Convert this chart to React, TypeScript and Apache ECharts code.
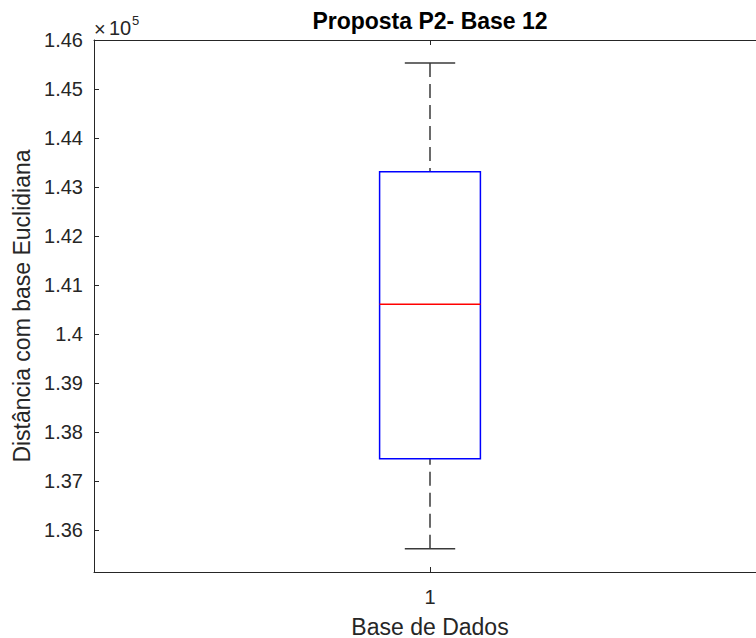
import React, { useEffect, useRef } from "react";
import * as echarts from "echarts";

// Data
const categories: string[] = ["1"];
// [min whisker, Q1, median, Q3, max whisker]
const boxStats: number[][] = [[135627, 137460, 140614, 143316, 145530]];
const yTickValues: number[] = [136000, 137000, 138000, 139000, 140000, 141000, 142000, 143000, 144000, 145000, 146000];
const yMin = 135152;
const yMax = 146000;

const FONT = "'Liberation Sans', Arial, Helvetica, sans-serif";
const AXIS_COLOR = "#262626";

export default function App() {
  const ref = useRef<HTMLDivElement>(null);

  useEffect(() => {
    document.body.style.margin = "0";
    document.body.style.overflow = "hidden";
    if (!ref.current) return;
    const chart = echarts.init(ref.current, undefined, { renderer: "svg" });

    const seriesData = boxStats.map((s, i) => [i, ...s]);

    const option: any = {
      animation: false,
      backgroundColor: "#ffffff",
      grid: { left: 94, top: 40, width: 672, height: 532, containLabel: false, outerBoundsMode: "none" },
      xAxis: [
        {
          type: "category",
          data: categories,
          position: "bottom",
          axisLine: { show: true, lineStyle: { color: AXIS_COLOR, width: 1 } },
          axisTick: { show: true, inside: true, length: 5, alignWithLabel: true, lineStyle: { color: AXIS_COLOR } },
          axisLabel: { show: true, margin: 15, color: AXIS_COLOR, fontSize: 20, fontFamily: FONT },
          splitLine: { show: false },
          name: "Base de Dados",
          nameLocation: "middle",
          nameGap: 43,
          nameTextStyle: { color: AXIS_COLOR, fontSize: 23, fontFamily: FONT },
        },
        {
          type: "category",
          data: categories,
          position: "top",
          axisLine: { show: true, lineStyle: { color: AXIS_COLOR, width: 1 } },
          axisTick: { show: true, inside: true, length: 5, alignWithLabel: true, lineStyle: { color: AXIS_COLOR } },
          axisLabel: { show: false },
          splitLine: { show: false },
        },
      ],
      yAxis: {
        type: "value",
        min: yMin,
        max: yMax,
        axisLine: { show: true, lineStyle: { color: AXIS_COLOR, width: 1 } },
        axisTick: { show: true, inside: true, length: 5, customValues: yTickValues, lineStyle: { color: AXIS_COLOR } },
        axisLabel: {
          show: true,
          margin: 11,
          customValues: yTickValues,
          color: AXIS_COLOR,
          fontSize: 20,
          fontFamily: FONT,
          formatter: (v: number) => String(parseFloat((v / 1e5).toFixed(4))),
        },
        splitLine: { show: false },
        name: "Distância com base Euclidiana",
        nameLocation: "middle",
        nameGap: 56,
        nameTextStyle: { color: AXIS_COLOR, fontSize: 23, fontFamily: FONT },
      },
      graphic: [
        {
          type: "text",
          x: 430,
          y: 21,
          style: {
            text: "Proposta P2- Base 12",
            textAlign: "center",
            textVerticalAlign: "middle",
            fill: "#000000",
            font: `bold 23px ${FONT}`,
          },
        },
        {
          type: "text",
          x: 94,
          y: 29,
          style: { text: "×", textAlign: "left", textVerticalAlign: "middle", fill: AXIS_COLOR, font: `20px ${FONT}` },
        },
        {
          type: "text",
          x: 109,
          y: 28,
          style: { text: "10", textAlign: "left", textVerticalAlign: "middle", fill: AXIS_COLOR, font: `20px ${FONT}` },
        },
        {
          type: "text",
          x: 132,
          y: 20,
          style: { text: "5", textAlign: "left", textVerticalAlign: "middle", fill: AXIS_COLOR, font: `13px ${FONT}` },
        },
      ],
      series: [
        {
          type: "custom",
          xAxisIndex: 0,
          yAxisIndex: 0,
          data: seriesData,
          encode: { x: 0, y: [1, 2, 3, 4, 5] },
          renderItem: (params: any, api: any) => {
            const xi = api.value(0);
            const vMin = api.value(1);
            const q1 = api.value(2);
            const med = api.value(3);
            const q3 = api.value(4);
            const vMax = api.value(5);
            const band = api.size([1, 0])[0];
            const boxW = band * 0.15;
            const capW = boxW * 0.5;
            const pMin = api.coord([xi, vMin]);
            const pQ1 = api.coord([xi, q1]);
            const pMed = api.coord([xi, med]);
            const pQ3 = api.coord([xi, q3]);
            const pMax = api.coord([xi, vMax]);
            const cx = pMed[0];
            return {
              type: "group",
              children: [
                {
                  type: "line",
                  shape: { x1: cx, y1: pMax[1], x2: cx, y2: pQ3[1] },
                  style: { stroke: "#6a6a6a", lineWidth: 2, lineDash: [14, 7] },
                },
                {
                  type: "line",
                  shape: { x1: cx, y1: pMin[1], x2: cx, y2: pQ1[1] },
                  style: { stroke: "#6a6a6a", lineWidth: 2, lineDash: [14, 7] },
                },
                {
                  type: "line",
                  shape: { x1: cx - capW / 2, y1: pMax[1], x2: cx + capW / 2, y2: pMax[1] },
                  style: { stroke: "#3a3a3a", lineWidth: 1.5 },
                },
                {
                  type: "line",
                  shape: { x1: cx - capW / 2, y1: pMin[1], x2: cx + capW / 2, y2: pMin[1] },
                  style: { stroke: "#3a3a3a", lineWidth: 1.5 },
                },
                {
                  type: "rect",
                  shape: { x: cx - boxW / 2, y: pQ3[1], width: boxW, height: pQ1[1] - pQ3[1] },
                  style: { fill: "none", stroke: "#0000ff", lineWidth: 1.5 },
                },
                {
                  type: "line",
                  shape: { x1: cx - boxW / 2, y1: pMed[1], x2: cx + boxW / 2, y2: pMed[1] },
                  style: { stroke: "#ff0000", lineWidth: 1.5 },
                },
              ],
            };
          },
        },
      ],
    };

    chart.setOption(option);
    return () => {
      chart.dispose();
    };
  }, []);

  return (
    <div style={{ width: 756, height: 638, overflow: "hidden", position: "relative" }}>
      <div ref={ref} style={{ width: 780, height: 638 }} />
    </div>
  );
}
